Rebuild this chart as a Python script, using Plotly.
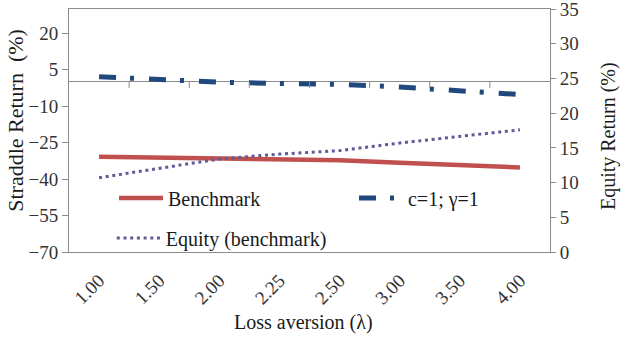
import plotly.graph_objects as go

categories = ["1.00", "1.50", "2.00", "2.25", "2.50", "3.00", "3.50", "4.00"]
benchmark = [-30.8, -31.1, -31.4, -31.8, -32.2, -33.3, -34.2, -35.2]
c1_gamma1 = [2.1, 1.0, -0.1, -0.65, -1.0, -2.1, -3.6, -5.2]
equity_benchmark = [10.7, 12.0, 13.4, 14.1, 14.6, 15.7, 16.6, 17.6]

left_ticks = [-70, -55, -40, -25, -10, 5, 20]
right_ticks = [0, 5, 10, 15, 20, 25, 30, 35]

FONT = "Liberation Serif, Times New Roman, Times, DejaVu Serif, serif"
AXIS_COLOR = "#8c8c8c"
TEXT_COLOR = "#1a1a1a"

fig = go.Figure()
fig.add_trace(go.Scatter(
    x=categories, y=benchmark, name="Benchmark", mode="lines",
    line=dict(color="#C0504D", width=4.5), legend="legend"))
fig.add_trace(go.Scatter(
    x=categories, y=c1_gamma1, name="c=1; γ=1", mode="lines",
    line=dict(color="#1F497D", width=5, dash="17px,14px,4px,15px"), legend="legend3"))
fig.add_trace(go.Scatter(
    x=categories, y=equity_benchmark, name="Equity (benchmark)", mode="lines",
    line=dict(color="#5F5A9A", width=3, dash="3px,3.7px"), yaxis="y2", legend="legend2"))

# tick marks on the zero line at category boundaries
for i in range(len(categories) - 1):
    fig.add_shape(type="line", xref="x", yref="y", x0=i + 0.5, x1=i + 0.5,
                  ysizemode="pixel", yanchor=0, y0=0, y1=-6,
                  line=dict(color=AXIS_COLOR, width=1))

legend_common = dict(xanchor="left", yanchor="middle", bgcolor="rgba(0,0,0,0)",
                     itemwidth=44, font=dict(family=FONT, size=20, color=TEXT_COLOR))

fig.update_layout(
    width=625, height=337,
    margin=dict(l=69, r=75, t=9, b=85, autoexpand=False),
    paper_bgcolor="white", plot_bgcolor="white",
    font=dict(family=FONT, color=TEXT_COLOR, size=19),
    xaxis=dict(
        type="category", showgrid=False, showline=True, mirror=True,
        linecolor=AXIS_COLOR, linewidth=1, ticks="", tickangle=-45,
        ticklabelstandoff=9, automargin=False,
        tickfont=dict(family=FONT, size=19, color="#333333"),
        range=[-0.5, len(categories) - 0.5]),
    yaxis=dict(
        range=[-70, 30], tickvals=left_ticks, showgrid=False,
        showline=True, linecolor=AXIS_COLOR, linewidth=1,
        ticks="outside", ticklen=6, tickcolor=AXIS_COLOR,
        zeroline=True, zerolinecolor=AXIS_COLOR, zerolinewidth=1,
        ticklabeloverflow="allow", automargin=False,
        tickfont=dict(family=FONT, size=19, color="#333333")),
    yaxis2=dict(
        range=[0, 35], tickvals=right_ticks, overlaying="y", side="right",
        showgrid=False, showline=True, linecolor=AXIS_COLOR, linewidth=1,
        ticks="outside", ticklen=5, tickcolor=AXIS_COLOR, zeroline=False,
        ticklabeloverflow="allow", automargin=False,
        tickfont=dict(family=FONT, size=19, color="#333333")),
    legend=dict(x=0.0936, y=0.222, **legend_common),
    legend2=dict(x=0.089, y=0.058, **legend_common),
    legend3=dict(x=0.5925, y=0.222, **legend_common),
    showlegend=True,
    annotations=[
        dict(text="Straddle Return  (%)", textangle=-90, xref="paper", yref="paper",
             x=0, xshift=-53, y=0.54, xanchor="center", yanchor="middle",
             showarrow=False, font=dict(family=FONT, size=22, color=TEXT_COLOR)),
        dict(text="Equity Return (%)", textangle=-90, xref="paper", yref="paper",
             x=1, xshift=58, y=0.477, xanchor="center", yanchor="middle",
             showarrow=False, font=dict(family=FONT, size=20, color=TEXT_COLOR)),
        dict(text="Loss aversion (λ)", xref="paper", yref="paper",
             x=0.487, y=0, yshift=-70, xanchor="center", yanchor="middle",
             showarrow=False, font=dict(family=FONT, size=20, color=TEXT_COLOR)),
    ],
)

fig.write_html("out.html")
